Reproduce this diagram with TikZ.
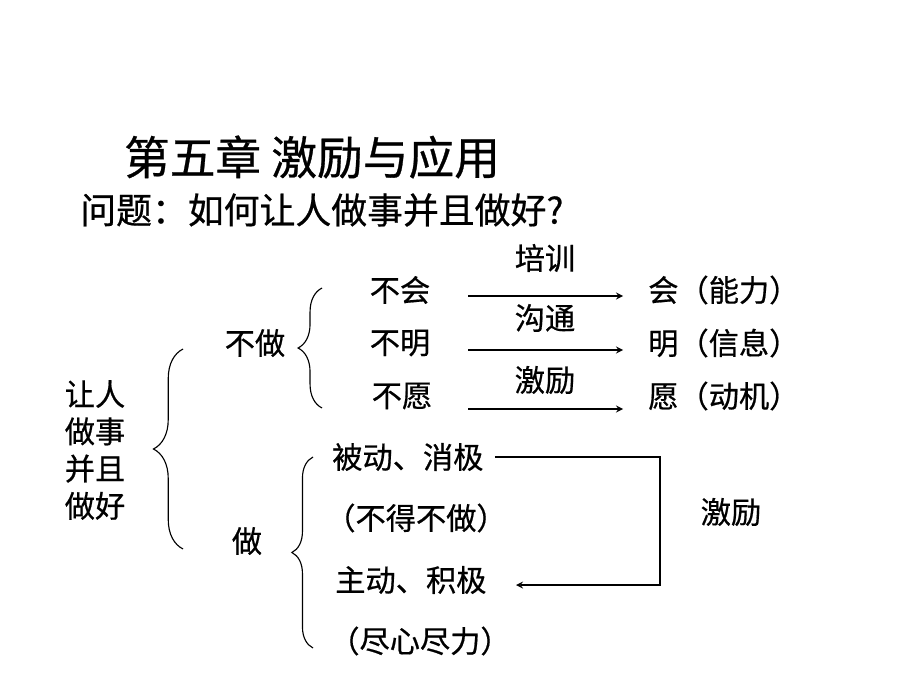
\documentclass[tikz,border=0pt]{standalone}
\usepackage{fontspec}
\setmainfont[FakeBold=0.6]{Noto Sans CJK SC}
\usetikzlibrary{arrows,decorations.pathreplacing}
\tikzstyle{item} = [
  inner sep=0pt,
  font=\fontsize{21.5}{26}\selectfont,
]
\tikzstyle{title} = [
  inner sep=0pt,
  font=\fontsize{32.5}{38}\selectfont,
]
\tikzstyle{question} = [
  inner sep=0pt,
  font=\fontsize{25.5}{30}\selectfont,
]
\tikzstyle{group} = [
  decorate,
  decoration={brace,amplitude=21pt},
  line width=0.8pt,
]
\tikzstyle{flow} = [
  line width=1.2pt,
  -stealth,
]

\begin{document}
\begin{tikzpicture}[
    x=0.025cm,
    y=-0.025cm,
  ]
  \useasboundingbox (0,0) rectangle (920,690);
  % heading
  \node[title] (chapter) at (312,157) {第五章 激励与应用};
  \node[
    question,
    anchor=west,
  ] (ask) at (80,210) {问题：如何让人做事并且做好?};
  % left column
  \node[
    item,
    align=center,
    font=\fontsize{21.5}{26.5}\selectfont,
  ] (goal) at (95,450) {让人\\做事\\并且\\做好};
  \node[item] (nodo) at (255,343) {不做};
  \node[item] (do) at (247,541) {做};
  \coordinate (b1bot) at (183,549);
  \coordinate (b1top) at (183,349);
  \draw[group] (b1bot) -- (b1top);
  % not doing
  \coordinate (b2bot) at (322,408);
  \coordinate (b2top) at (322,288);
  \draw[group,decoration={amplitude=17pt}] (b2bot) -- (b2top);
  \node[item] (cannot) at (400,290) {不会};
  \node[item] (unclear) at (400,343) {不明};
  \node[item] (unwilling) at (402,396) {不愿};
  \node[
    item,
    anchor=west,
  ] (can) at (648,290) {会（能力）};
  \node[
    item,
    anchor=west,
  ] (clear) at (648,343) {明（信息）};
  \node[
    item,
    anchor=west,
  ] (willing) at (648,396) {愿（动机）};
  \coordinate (a1s) at (468,296);
  \coordinate (a1e) at (623,296);
  \coordinate (a2s) at (468,350);
  \coordinate (a2e) at (623,350);
  \coordinate (a3s) at (468,409);
  \coordinate (a3e) at (623,409);
  \draw[flow] (a1s) -- (a1e);
  \draw[flow] (a2s) -- (a2e);
  \draw[flow] (a3s) -- (a3e);
  \node[item] (train) at (545,258) {培训};
  \node[item] (talk) at (545,318) {沟通};
  \node[item] (motiv) at (545,380) {激励};
  % doing
  \coordinate (b3bot) at (313,648);
  \coordinate (b3top) at (313,457);
  \draw[group,decoration={amplitude=15pt,aspect=0.5}] (b3bot) -- (b3top);
  \node[
    item,
    anchor=west,
  ] (passive) at (332,457) {被动、消极};
  \node[item] (forced) at (416,518) {（不得不做）};
  \node[
    item,
    anchor=west,
  ] (active) at (335,580) {主动、积极};
  \node[item] (best) at (420,641) {（尽心尽力）};
  \coordinate (fbtop) at (660,457);
  \coordinate (fbbot) at (660,585);
  \coordinate (fbend) at (516,585);
  \draw[flow] ([xshift=8]passive.east) -- (fbtop) -- (fbbot) -- (fbend);
  \node[item] (motiv2) at (731,512) {激励};
\end{tikzpicture}
\end{document}
